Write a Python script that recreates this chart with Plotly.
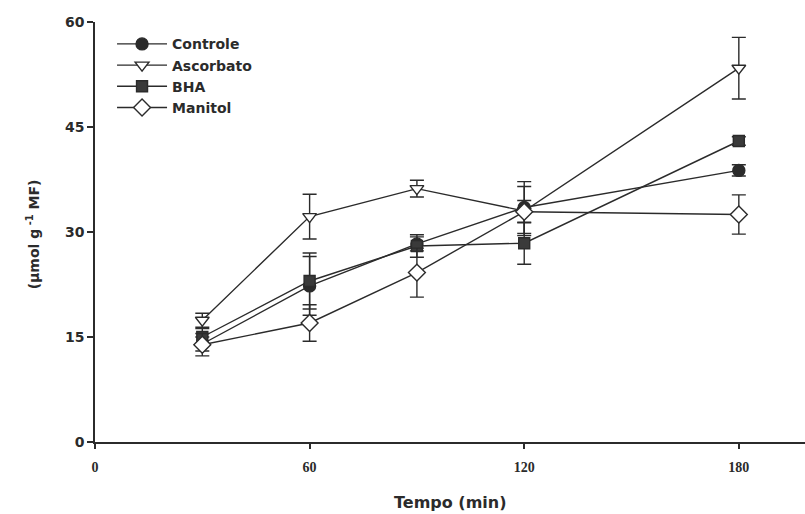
import plotly.graph_objects as go

# Sampling times (min)
tempo = [30, 60, 90, 120, 180]

# Mean values (µmol g-1 MF) and standard errors for each treatment
controle = [14.0, 22.3, 28.3, 33.5, 38.8]
controle_err = [1.0, 4.2, 1.0, 3.7, 0.8]

ascorbato = [17.4, 32.2, 36.2, 33.0, 53.4]
ascorbato_err = [1.0, 3.2, 1.2, 3.5, 4.4]

bha = [15.0, 23.0, 28.0, 28.4, 43.0]
bha_err = [1.2, 4.0, 1.6, 3.0, 0.6]

manitol = [13.9, 17.0, 24.2, 32.9, 32.5]
manitol_err = [1.6, 2.6, 3.5, 1.6, 2.8]

x_ticks = [0, 60, 120, 180]
y_ticks = [0, 15, 30, 45, 60]

ink = "#2b2b2b"
sans = "DejaVu Sans, Arial"

series = [
    ("Controle", controle, controle_err, "circle", 12, ink),
    ("Ascorbato", ascorbato, ascorbato_err, "triangle-down", 12, "white"),
    ("BHA", bha, bha_err, "square", 11, "#3a3a3a"),
    ("Manitol", manitol, manitol_err, "diamond", 13, "white"),
]

fig = go.Figure()
for name, vals, errs, symbol, size, fill in series:
    fig.add_trace(go.Scatter(
        x=tempo, y=vals, name=name, mode="lines+markers",
        line=dict(color=ink, width=1.4),
        marker=dict(symbol=symbol, size=size, color=fill,
                    line=dict(color=ink, width=1.4)),
        error_y=dict(type="data", array=errs, visible=True,
                     color=ink, thickness=1.4, width=7),
        cliponaxis=False,
    ))

fig.update_layout(
    width=805, height=514,
    margin=dict(l=95, r=0, t=22, b=72),
    plot_bgcolor="white", paper_bgcolor="white",
    showlegend=True,
    legend=dict(x=0.024, y=0.985, xanchor="left", yanchor="top",
                bgcolor="rgba(0,0,0,0)", tracegroupgap=0,
                itemwidth=50,
                font=dict(family=sans, size=14, color=ink, weight="bold")),
    font=dict(family=sans, color=ink),
    annotations=[
        dict(text="Tempo (min)", xref="paper", yref="paper",
             x=0.5, y=-0.143, xanchor="center", yanchor="middle",
             showarrow=False,
             font=dict(family=sans, size=16, color=ink, weight="bold")),
        dict(text="(µmol g<sup> -1</sup> MF)", xref="paper", yref="paper",
             x=-0.087, y=0.495, xanchor="center", yanchor="middle",
             textangle=-90, showarrow=False,
             font=dict(family=sans, size=14, color=ink, weight="bold")),
    ],
)

fig.update_xaxes(
    range=[0, 198.5], tickvals=x_ticks, ticktext=[str(v) for v in x_ticks],
    showgrid=False, zeroline=False, showline=True, linecolor=ink, linewidth=1.5,
    ticks="outside", ticklen=5, tickwidth=1.5, tickcolor=ink,
    ticklabelstandoff=6,
    tickfont=dict(family="Liberation Serif, DejaVu Serif", size=14,
                  color=ink, weight="bold"),
)

fig.update_yaxes(
    range=[0, 60], tickvals=y_ticks,
    showgrid=False, zeroline=False, showline=True, linecolor=ink, linewidth=1.5,
    ticks="outside", ticklen=6, tickwidth=1.5, tickcolor=ink,
    tickfont=dict(family=sans, size=14, color=ink, weight="bold"),
)

fig.write_html("out.html")
